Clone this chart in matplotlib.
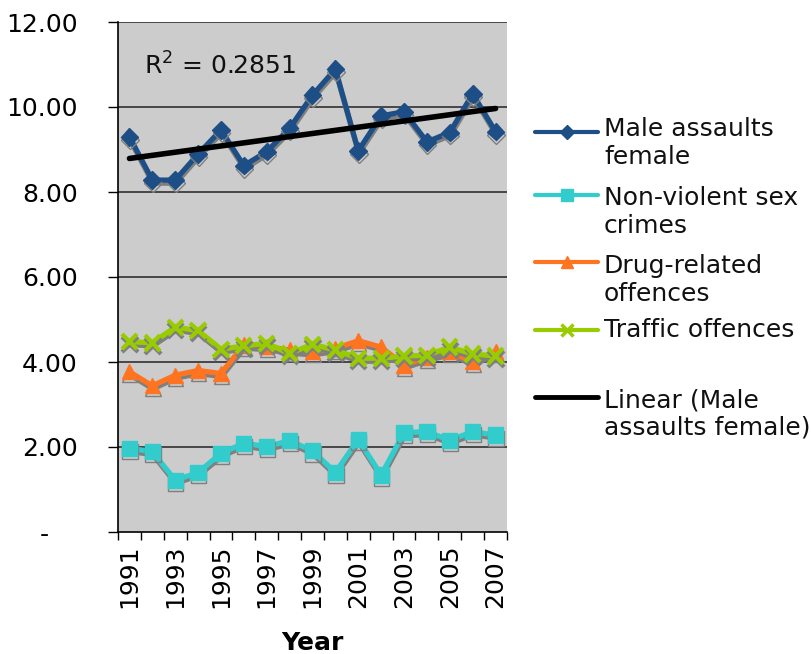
import numpy as np
import matplotlib
matplotlib.use('Agg')
import matplotlib.pyplot as plt
import matplotlib.patheffects as pe
from matplotlib.lines import Line2D

years = list(range(1991, 2008))
male_assaults_female = [9.30, 8.28, 8.28, 8.89, 9.46, 8.62, 8.95, 9.50, 10.28, 10.89,
                        8.97, 9.79, 9.89, 9.18, 9.40, 10.31, 9.42]
non_violent_sex = [1.97, 1.89, 1.22, 1.40, 1.85, 2.09, 2.01, 2.15, 1.91, 1.40,
                   2.18, 1.34, 2.34, 2.36, 2.16, 2.36, 2.28]
drug_related = [3.77, 3.44, 3.69, 3.80, 3.73, 4.40, 4.36, 4.28, 4.24, 4.32,
                4.50, 4.35, 3.93, 4.11, 4.24, 4.01, 4.24]
traffic = [4.48, 4.45, 4.82, 4.74, 4.30, 4.38, 4.44, 4.20, 4.42, 4.28,
           4.09, 4.09, 4.14, 4.16, 4.35, 4.19, 4.14]
year_labels = ['1991', '1993', '1995', '1997', '1999', '2001', '2003', '2005', '2007']
y_ticks = [0, 2, 4, 6, 8, 10, 12]
y_tick_labels = ['-   \u2009', '2.00', '4.00', '6.00', '8.00', '10.00', '12.00']
legend_labels = ['Male assaults\nfemale', 'Non-violent sex\ncrimes', 'Drug-related\noffences',
                 'Traffic offences', 'Linear (Male\nassaults female)']
r2_text = 'R$^2$ = 0.2851'

c_blue = '#1D4F86'
c_cyan = '#33CCCC'
c_orange = '#FF7420'
c_green = '#99CC00'

W, H = 811, 654
fig = plt.figure(figsize=(W / 100, H / 100), dpi=100)
plt.rcParams['font.family'] = ['DejaVu Sans']
ax = fig.add_axes([118 / W, 1 - 532 / H, (507 - 118) / W, (532 - 22) / H])
ax.set_facecolor('#CCCCCC')

shadow = [pe.SimpleLineShadow(offset=(0.4, -2.2), shadow_color='#7F7F7F', alpha=1.0), pe.Normal()]

x = np.array(years, dtype=float)
series = [
    (male_assaults_female, c_blue, 'D', 9, 1.0),
    (non_violent_sex, c_cyan, 's', 11, 1.0),
    (drug_related, c_orange, '^', 11, 1.0),
    (traffic, c_green, 'x', 11, 3.0),
]
for vals, col, mk, ms, mew in series:
    ax.plot(x, vals, color=col, lw=3.8, marker=mk, ms=ms, mec=col, mfc=col, mew=mew,
            path_effects=shadow, zorder=3, solid_joinstyle='miter')

coef = np.polyfit(x, male_assaults_female, 1)
ax.plot([x[0], x[-1]], np.polyval(coef, [x[0], x[-1]]), color='black', lw=4, zorder=4,
        solid_capstyle='round')

ax.set_xlim(1990.5, 2007.5)
ax.set_ylim(0, 12)
ax.set_yticks(y_ticks)
ax.set_yticklabels(y_tick_labels, fontsize=18)
ax.tick_params(axis='y', direction='out', length=7, width=1, pad=22)
for yv in y_ticks[1:]:
    ax.axhline(yv, color='#303030', lw=1.2, zorder=1)

ax.set_xticks(np.arange(1990.5, 2008.0, 1.0))
ax.set_xticklabels([])
ax.tick_params(axis='x', which='major', direction='out', length=6, width=1)
ax.set_xticks([int(y) for y in year_labels], minor=True)
ax.set_xticklabels(year_labels, minor=True, rotation=90, fontsize=18)
ax.tick_params(axis='x', which='minor', length=0, pad=9)

for s in ['top', 'right']:
    ax.spines[s].set_visible(False)
for s in ['left', 'bottom']:
    ax.spines[s].set_color('black')
    ax.spines[s].set_linewidth(1.2)

ax.text(1991.65, 10.96, r2_text, fontsize=18, va='center', ha='left', color='#111111')

fig.text(312 / W, 1 - 643 / H, 'Year', fontsize=18, fontweight='bold', ha='center', va='center')

# legend (manual, Excel-style)
handles = [
    (c_blue, 'D', 7, 1.0),
    (c_cyan, 's', 8, 1.0),
    (c_orange, '^', 8, 1.0),
    (c_green, 'x', 8, 2.5),
    ('black', None, 0, 1.0),
]
handle_y = [131.7, 195, 262, 330, 396.7]
text_y = [143, 212, 280, 330, 414]
for (col, mk, ms, mew), hy, ty, lab in zip(handles, handle_y, text_y, legend_labels):
    yy = 1 - hy / H
    fig.add_artist(Line2D([535 / W, 598 / W], [yy, yy], transform=fig.transFigure,
                          color=col, lw=3 if mk else 3.5, solid_capstyle='round'))
    if mk:
        fig.add_artist(Line2D([566.5 / W], [yy], transform=fig.transFigure, color=col,
                              marker=mk, ms=ms, mfc=col, mec=col, mew=mew, lw=0))
    fig.text(604 / W, 1 - ty / H, lab, fontsize=18, ha='left', va='center',
             linespacing=1.2, color='#111111')

fig.savefig('out.png', dpi=100)
